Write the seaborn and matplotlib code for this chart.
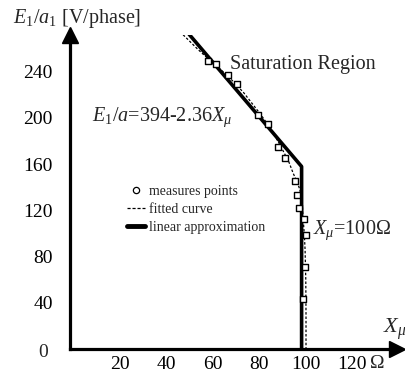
import matplotlib
matplotlib.use("Agg")
import matplotlib.pyplot as plt
import matplotlib.transforms as mtransforms
import seaborn as sns
import pandas as pd
from matplotlib.lines import Line2D

# ---- data ----
measured_x = [59.8, 63.1, 68.1, 72.0, 81.3, 85.6, 90.0, 92.8, 97.2, 98.1, 98.9, 101.2, 101.9, 101.5, 100.7]
measured_y = [249.6, 246.8, 237.2, 229.2, 202.6, 194.5, 174.6, 165.1, 145.7, 133.3, 122.5, 112.3, 98.7, 71.3, 43.0]

fitted_x = [47.6, 55, 62, 68, 75, 82, 87, 91.4, 94.5, 96.4, 98.0, 99.3, 100.3, 100.7, 101.2, 101.5, 101.8, 101.9, 101.9]
fitted_y = [274.7, 260, 247, 237, 222, 204, 190, 174, 162, 152, 145, 137.7, 125, 112, 98, 86, 60, 30, 0]

linear_x = [51.5, 100, 100]
linear_y = [272.5, 158, 0]

x_ticks = [20, 40, 60, 80, 100, 120]
y_ticks = [20, 40, 60, 80, 100, 120, 140, 160, 180, 200, 220, 240]
y_labels = ["", "40", "", "80", "", "120", "", "160", "", "200", "", "240"]

sns.set_theme(style="white")
plt.rcParams["font.family"] = ["Liberation Serif", "DejaVu Serif"]
plt.rcParams["mathtext.fontset"] = "custom"
plt.rcParams["mathtext.rm"] = "Liberation Serif"
plt.rcParams["mathtext.it"] = "Liberation Serif:italic"
plt.rcParams["mathtext.bf"] = "Liberation Serif:bold"

W, H = 406, 376
fig = plt.figure(figsize=(W / 100, H / 100), dpi=100)
x0, x1, y0, y1 = 69.6, 397, 349, 35
ax = fig.add_axes([x0 / W, (H - y0) / H, (x1 - x0) / W, (y0 - y1) / H])
ax.set_xlim(0, (x1 - x0) / 2.32)
ax.set_ylim(0, (y0 - y1) / 1.155)

df_fit = pd.DataFrame({"x": fitted_x, "y": fitted_y})
df_lin = pd.DataFrame({"x": linear_x, "y": linear_y})
df_meas = pd.DataFrame({"x": measured_x, "y": measured_y})

sns.lineplot(data=df_lin, x="x", y="y", estimator=None, sort=False, ax=ax,
             color="black", linewidth=2.6, zorder=2)
sns.lineplot(data=df_fit, x="x", y="y", estimator=None, sort=False, ax=ax,
             color="black", linewidth=0.9, linestyle=(0, (2, 1.5)), zorder=3)
sns.scatterplot(data=df_meas, x="x", y="y", ax=ax, marker="s", s=14,
                facecolor="white", edgecolor="black", linewidth=1.0, zorder=4)

for s in ["top", "right"]:
    ax.spines[s].set_visible(False)
for s in ["left", "bottom"]:
    ax.spines[s].set_linewidth(2.3)
    ax.spines[s].set_color("black")

ax.plot(1, 0, marker=">", ms=12, color="black", transform=ax.get_yaxis_transform(), clip_on=False)
ax.plot(0, 1, marker="^", ms=12, color="black", transform=ax.get_xaxis_transform(), clip_on=False)

ax.set_xticks(x_ticks)
ax.set_xticklabels([str(v) for v in x_ticks])
ax.set_yticks(y_ticks)
ax.set_yticklabels(y_labels)
ax.tick_params(axis="both", direction="in", length=9, width=1.0, color="#444444",
               labelsize=14, labelcolor="black")
ax.tick_params(axis="x", pad=5)
ax.tick_params(axis="y", pad=12)
shift = mtransforms.ScaledTranslation(3 / 72, 0, fig.dpi_scale_trans)
for lab in ax.get_xticklabels():
    lab.set_transform(lab.get_transform() + shift)
ax.set_xlabel("")
ax.set_ylabel("")

# zero label and Ohm sign
ax.text(-11.5, -3, "0", fontsize=14, ha="center", va="center", clip_on=False)
ax.text(132.8, -12.3, "Ω", fontsize=14, ha="center", va="center", clip_on=False)

# annotations
ax.text(69.1, 246, "Saturation Region", fontsize=14.5, ha="left", va="center")
ax.text(9.7, 201, r"$E_1/a$=394-2.36$X_\mu$", fontsize=14.5, ha="left", va="center")
ax.text(104.9, 103, r"$X_\mu$=100Ω", fontsize=14.5, ha="left", va="center")
ax.text(135.0, 17, r"$X_\mu$", fontsize=16, ha="left", va="center", clip_on=False)
fig.text(13 / W, 1 - 18 / H, r"$E_1/a_1$ [V/phase]", fontsize=14.5, ha="left", va="center")

handles = [
    Line2D([], [], linestyle="none", marker="o", ms=4.5, mfc="white", mec="black", mew=0.9),
    Line2D([], [], color="black", linestyle=(0, (2.5, 1.5)), linewidth=0.9),
    Line2D([], [], color="black", linewidth=3.5),
]
labels = ["measures points", "fitted curve", "linear approximation"]
ax.legend(handles, labels, loc="upper left", bbox_to_anchor=(127 / W, 1 - 185 / H),
          bbox_transform=fig.transFigure, frameon=False, fontsize=10,
          handlelength=1.3, handletextpad=0.3, labelspacing=0.35, borderpad=0, borderaxespad=0)

fig.savefig("out.png", dpi=100)
